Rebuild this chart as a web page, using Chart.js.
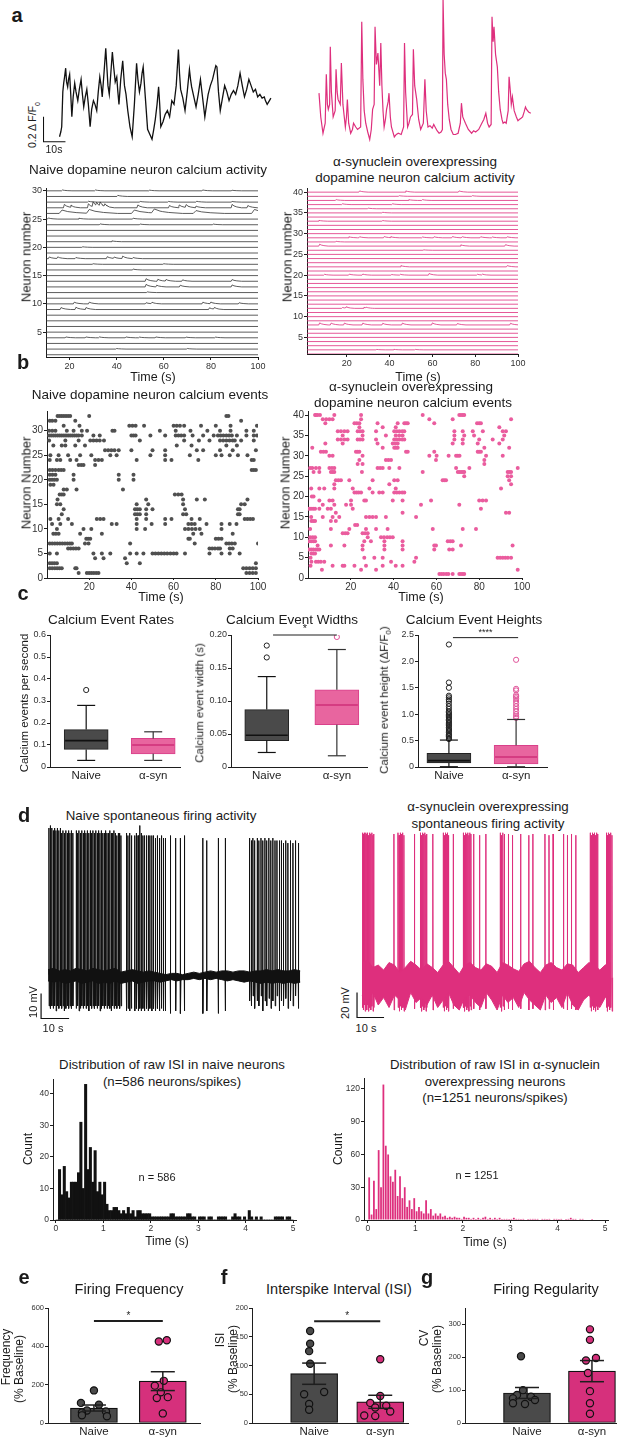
<!DOCTYPE html>
<html>
<head>
<meta charset="utf-8">
<script src="https://cdn.jsdelivr.net/npm/chart.js@4.4.1/dist/chart.umd.min.js"></script>
<style>
  body { margin: 0; background: #fff; }
  #fig { position: relative; width: 632px; height: 1439px; overflow: hidden; background: #fff;
         font-family: 'Liberation Sans', Arial, sans-serif; color: #1a1a1a; }
  .t { position: absolute; white-space: nowrap; transform: translate(-50%, -50%); line-height: 1; }
</style>
</head>
<body>
<div id="fig"></div>
<script>
// ---------- data ----------

// a: example traces (time s, dF/F)
const blackTraceT = [0,0.6,1,1.5,1.9,2.3,2.8,3.2,3.7,4.1,4.6,5.1,5.6,6.2,6.9,7.5,8.3,9,9.8,10.4,11,11.7,12.4,13.1,13.9,14.6,15.4,16.1,16.9,17.6,18.3,18.9,19.4,20.2,21,21.5,22,22.6,23.3,24,24.6,25.3,26,26.5,27,27.8,28.7,29.5,30.2,31,32,33,34,35,35.6,36.3,37,37.5,38,39,40,41,42,42.8,43.5,44.3,45,45.5,46,47,48,49,50,51,52,53,54,54.5,55,56,57,58,59,59.5,60,61,62,63,64,65,66,66.8,67.5,68.5,69.5,70.3,71,71.5,72.2,73,74,75,76,77,78,79,80,81,82,83,84,85,86,87,88,89,90,91,92,93,93.5,94.3,95,96];
const blackTraceV = [.04,.08,.12,.40,.47,.52,.59,.48,.44,.50,.54,.38,.20,.36,.47,.40,.33,.42,.50,.38,.28,.36,.42,.30,.12,.26,.33,.30,.25,.40,.52,.45,.36,.55,.75,.60,.45,.38,.55,.72,.60,.48,.52,.40,.30,.50,.65,.45,.38,.25,.12,.04,.30,.63,.50,.40,.47,.55,.60,.35,.10,.06,.02,.10,.18,.30,.44,.30,.12,.16,.22,.25,.20,.33,.30,.45,.74,.55,.42,.35,.25,.40,.58,.50,.44,.36,.28,.38,.50,.35,.20,.30,.38,.45,.50,.56,.61,.60,.40,.25,.35,.45,.40,.33,.38,.41,.38,.45,.55,.45,.36,.42,.50,.45,.40,.42,.36,.38,.35,.36,.33,.30,.32,.35];
const pinkTraceT = [0.4,1.2,2.2,3.2,3.7,4.2,4.6,5.2,5.5,6.0,6.8,7.7,8.1,8.6,9.0,10.0,10.5,11.2,12.3,12.8,13.2,13.8,14.7,15.5,16.0,17.0,17.8,19.2,19.7,20.2,20.8,21.5,22.4,23.3,24.0,24.6,25.3,25.7,26.3,27.0,27.8,28.3,28.8,29.3,29.8,30.4,30.9,31.6,32.0,32.6,33.1,34.4,35.3,36.2,37.5,38.6,39.0,39.5,40.4,41.0,41.7,42.6,43.0,43.6,44.5,45.4,46.3,47.5,48.2,48.8,49.6,50.5,51.5,52.2,52.8,53.7,54.6,55.5,56.1,56.4,56.9,57.4,57.9,58.5,59.2,60.0,61.0,62.0,63.2,64.2,64.7,65.3,66.5,67.8,69.3,70.2,71.1,72.5,73.9,74.8,75.7,76.5,77.2,78.1,78.5,79.0,79.4,80.1,80.9,81.5,82.2,83.0,83.5,84.3,84.9,85.8,86.2,86.8,87.2,87.7,88.5,89.5,90.2,90.8,91.6,92.3,93.0,93.6,94.1,95.0,96.0];
const pinkTraceV = [.39,.20,.07,.15,.54,.30,.26,.30,.76,.40,.20,.25,.58,.40,.34,.30,.63,.30,.12,.20,.34,.15,.07,.10,.15,.12,.10,.12,.96,.50,.25,.15,.08,.02,.10,.26,.30,.92,.62,.71,.45,.79,.45,.25,.12,.18,.26,.32,.39,.20,.12,.04,.06,.07,.06,.12,.79,.40,.12,.15,.20,.22,.74,.45,.34,.18,.10,.15,.50,.25,.12,.13,.11,.14,.12,.09,.07,.08,.10,1.14,.70,.55,.50,.30,.18,.10,.06,.06,.07,.15,.31,.20,.15,.10,.07,.09,.08,.10,.15,.18,.23,.15,.12,.14,1.0,.80,.92,.70,.60,.40,.26,.18,.15,.16,.15,.25,.52,.40,.30,.36,.25,.20,.17,.18,.19,.20,.24,.28,.26,.24,.23];

// a: calcium activity per neuron, events [time, amplitude, decay factor]
const naiveActivity = {
  30: [[17,.15],[31,.15],[54,.12],[76.6,.15],[89,.1]],
  29: [[40.5,.2]],
  28: [[28,.15],[50,.12],[62,.12],[74,.15],[89,.12]],
  27: [[17.8,.6],[20.6,.4],[28,.7],[30,.9],[31.5,.6],[33,.7],[35,.5],[49,.5],[62.4,.4],[66.6,.5],[69.5,.5],[73.7,.3],[89,.6],[95.7,.4]],
  26: [[16.8,.6,3],[28.4,.7,3],[47.5,.6,3],[56,.7,3],[73.7,.5,3],[98.5,.7,3]],
  25: [[11,.2],[24,.15],[47,.15]],
  24: [[33,.15],[50,.12],[81,.12]],
  21: [[38,.15]],
  20: [[25.6,.1]],
  18: [[11.4,.3],[15,.3],[22.7,.2],[36,.35],[39,.25],[42.6,.45],[47,.2]],
  17: [[30,.1],[60,.1]],
  16: [[47,.15]],
  14: [[52.5,.45],[57.5,.35],[61,.3],[68,.25],[89,.3]],
  13: [[52.5,.45],[57,.3],[67,.3],[89,.35]],
  12: [[53,.12]],
  10: [[22,.3],[28.4,.3],[52.5,.2],[55,.25],[76.6,.3],[80,.3],[92,.2]],
  9: [[16.4,.35],[22.7,.4],[27,.35],[79.4,.3],[81.5,.3]],
  4: [[18.5,.15],[27,.15],[32.7,.15],[44,.15],[49.7,.12],[56.7,.15],[69.5,.12],[82,.12]],
  2: [[40,.1],[70,.1]]
};
const asynActivity = {
  40: [[26,.3],[47.6,.3],[72.5,.3]],
  39: [[44.5,.15],[78.7,.15]],
  38: [[15,.2],[49,.2],[55.4,.2]],
  37: [[18,.2],[41.4,.2]],
  36: [[30,.15]],
  35: [[36.8,.15]],
  33: [[7,.2],[36.8,.15]],
  29: [[21,.25],[26,.25],[37.5,.3],[40.6,.25],[55.4,.2],[60.8,.25],[69.4,.3],[74,.25],[82.6,.25],[88,.2],[95,.25]],
  28: [[15,.15]],
  27: [[7.3,.45],[73.3,.3],[94.2,.35]],
  26: [[56,.1]],
  22: [[45.3,.3],[95,.3]],
  20: [[9.6,.2],[21.2,.25],[27.5,.25],[41,.15],[45,.2],[58.5,.4],[81,.2],[83.4,.2]],
  12: [[18,.2],[19.7,.3],[28,.25],[29,.15]],
  8: [[7.3,.5],[12.7,.45],[18.9,.45],[27.5,.45],[36.8,.4],[46,.45],[60,.5],[71.7,.35],[96.5,.4]],
  2: [[34,.1],[42,.12],[52,.1]]
};

// b: calcium event raster, neuron -> event times (s)
const naiveEvents = {
  33: [5,6,7,8,9,10,11,20,85,86],
  32: [1.3,2.5,4,13.4,92],
  31: [7.9,15.4,39,40.5,42,46,60,61.5,63,65,73,80,87,99.5],
  30: [1,2.5,4,9.4,12.6,16.5,19,31,32,53.5,61,68,76,82,87,94.5,98],
  29: [1,2,3,4,5,6,7,8,9,10,11,12,13,14,15,16.5,22,25,40,41,42,49,56,61,62.3,63.6,65,69,74,79,81,82.3,83.6,85,86.3,87.6,90,94.5,98,99.5],
  28: [1,8.7,15,20.5,22,23.5,25,27,44,65,72,77,82,83.5,85,86.5,88,89,92,98],
  27: [3,7,8.7,13.4,18,61.5,68.5,85,90],
  26: [27.5,29,30.5,32,34,40,50,56,71,74,82,88,99],
  25: [1.6,5.5,10,15.7,21,30,33,49,56,67.7,80,82.7,86.6,90.5,95],
  24: [1.3,4.7,6.3,11,14,22.8,24.4,26,42.5,56,59,71.7,97,98],
  23: [15,16.2,17.3,22.8],
  22: [1.3,2.6,4,5.5,6.7,7.9,97,98,99],
  21: [1.3,2.6,4,12.6,34,41],
  20: [1.3,2.4,3.5,4.7,12.6,34,41],
  19: [1.6,3.1],
  18: [7.9,9.4,14,36],
  17: [6,7,7.9,60.6,62.2,63.8],
  16: [5,47,64.5,71,74.8,95],
  15: [4.7,6.3,42.5,48,64.5,92,93.7],
  14: [7.9,41.7,42.8,44,47,50,65.4,90.5,91.3],
  13: [7,41.7,42.8,44,47,64.5,66,90.5,91.3],
  12: [1.6,5.5,10,23.6,25.2,26.8,42.5,47,56,59,68.5,72.4,93.7,95,96.3,97.6],
  11: [2.4,6.3,11.8,30.7,33,42.5,49.6,56,67,68.5,70,75.6,82.7,86.6,89.8],
  10: [4.7,17.3,21,42.5,46.5,65.4,67,68.7,70.4,72.4,82.7],
  9: [3,4.2,5.5,15.7,26,69.3,73.2,88],
  8: [18.6,19.5,20.5,67,67.7,80,81.3,82.7],
  7: [1.3,2.5,3.7,4.9,6.1,7.3,8.5,9.7,10.8,11.8,18,19.7,39.4,70,85,86.3,87.6,89,100],
  6: [10,11.2,12.5,13.7,15,77,78.3,79.6,81,82,86.6,88],
  5: [1.3,4.7,22,26,30,39.4,42.5,45.7,50,51.4,52.8,54.2,55.6,57,58.5,60,61.4,65.4,77,82.7,86.6,91.3],
  4: [22.8,26.8,37],
  3: [1.3,2.4,3.5,4.7,37.8,44,99],
  2: [1.3,2.5,3.7,4.8,5.9,7,13.4,14,93,94.5,96,97.5,99],
  1: [15,18.9,20,21.1,22.2,23.3,24.4,94.5,96,97.5,99]
};
const asynEvents = {
  40: [3.3,3.7,4.5,5.6,12.3,24.8,53.6,70.7,71.5,72.3,73],
  39: [6.9,8.5,10,11.5,24.8,56.7,67.6,94.9],
  38: [8.1,21.7,22.8,24,32.5,41.9,45,45.8,46.6,59,79,80,80.8],
  37: [24,34.9,41,89.4],
  36: [13.9,15.4,17,18.5,23.2,24.3,25.5,31.8,40.3,41.5,42.7,44,45,68.4,72.3,77,81.7,91,92.5],
  35: [16.2,25.5,36.4,41,42.6,44.2,68.4,73,77.6,91.7],
  34: [13.9,15.4,17,18.5,23.2,24.3,25.5,31.8,40.3,41.5,42.7,44,45,68.4,72.3,80,86.3,91],
  33: [8.1,16.2,32.5,39.6,40.8,41.9,67.6,72.3,79.3,89.4],
  32: [2,34.9,40.3,41.1,41.9,82.4,94],
  31: [6,7.2,8.4,22.4,23.2,24,45.8,46.6,59,79.3,80,80.8],
  30: [10,11.5,25.5,56.7,60.1,65.7,69.2,70,70.8,83.2,91],
  29: [24,36.4,37.6,38.8,59.8,82.4],
  28: [23.2,25.5,82.4],
  27: [1,2,3.7,5.3,10,11.2,12.3,32.5,33.7,34.9,38,42.7,69.2,75.4,98],
  26: [2.6,5.3,10.7,11.5,12.3,25.2,53.6,70,70.8,71.6,72.4,73,93.3,94.1,94.9],
  25: [73,93.3,94.9],
  24: [13,14.2,15.4,19.3,30.2,40.3,41.9,62.9,63.7,64.5,94],
  23: [12.3,38,94.9],
  22: [1.5,5.3,7.6,12.3,20.9,28.7,41,90.2],
  21: [21.7,22.7,23.7,24.8,30.2,33.3,34.9,40.3,41.5,42.7,44,45],
  20: [1.8,2.6],
  19: [5.3,10,11.5,20.1,26.3,27.1,39.6,44.2,57.5,80,81.6,83.2],
  18: [6.9,12.3,17.8,20.1,52.8,70.7],
  17: [0.5,1.4,2.4,3.3,5.3,9.2,10.7,20.9,80.8],
  16: [13,44.2,92.5,94],
  15: [1.5,6.9,11.5,14.6,27.1,28.7,30.2,31.8,36.4,50.5],
  14: [1.6,2.5,3.3,10.7,13],
  13: [22,23],
  12: [1,10.7,19.3,27.1,31.8,37.2,58.3,72.3,78.5],
  11: [16.2,17.4,18.5,25.5,26.7,27.9],
  10: [1,2.2,3.3,27.9,34.1,35.5,37,38.3,39.6],
  9: [0.5,1.5,2.5,3.3,26.3,29.4,35.7,44.2,65.3,66.5,67.6],
  8: [4.5,10.7,17,25.5,35.7,44.2,59,59.8,71.5,95.6],
  7: [0.5,1.5,2.5,3.7,4.5,5.3,25.5,35.7,44.2,59,66,67.6],
  6: [1.6,2.5,3.3],
  5: [1.2,26.3,31,34.9,50.5,88.6,89.8,91,92.2,93.4,94.9],
  4: [1.6,3.7,4.8,6,7.6,38.8,49.7],
  3: [1.2,11.5,16.2,17,21.7,27.1,34.9,41,44.2],
  2: [6.5,24.8,31.8,98],
  1: [61.4,62.4,63.4,64.6,65.6,67.6,70.7,71.5,72.3,73]
};

// c: box plots, [low whisker, Q1, median, Q3, high whisker] for Naive, α-syn
const groups = ['Naive', 'α-syn'];
const rateStats = [[0.03,0.08,0.12,0.17,0.28],[0.03,0.06,0.10,0.13,0.16]];
const rateOutliers = [[0.35],[]];
const widthStats = [[0.022,0.04,0.048,0.087,0.137],[0.017,0.064,0.094,0.117,0.178]];
const widthOutliers = [[0.166,0.184],[0.197]];
const heightStats = [[0.005,0.075,0.12,0.26,0.51],[0.005,0.06,0.19,0.41,0.90]];
const heightOutliers = [
  [0.53,0.55,0.58,0.6,0.62,0.65,0.68,0.7,0.72,0.75,0.78,0.8,0.83,0.85,0.88,0.9,0.93,0.95,0.98,1.0,1.03,1.05,1.1,1.15,1.2,1.25,1.28,1.32,1.35,1.5,1.6,2.32],
  [0.93,0.96,1.0,1.05,1.1,1.15,1.2,1.25,1.3,1.33,1.36,1.45,1.48,2.03]
];

// d: spontaneous firing, spikes [time s, peak mV, trough mV]; baseline envelope every 2 s
const blackRest = -57.5, pinkRest = -48;
const blackSpikes = [
  [0.3,1,-70],[0.8,2,-71],[1.3,1,-70],[1.8,0,-71],[2.3,1,-70],[2.8,0,-72],[3.3,1,-70],[3.8,0,-71],[4.3,1,-70],[4.8,-1,-71],[5.3,0,-70],[5.8,-1,-72],[6.3,0,-71],[6.8,-1,-70],[7.3,0,-71],[7.8,-1,-70],[8.3,0,-71],[8.8,-1,-70],
  [10.0,0,-71],[10.5,-1,-70],[11.0,0,-72],[11.5,-1,-71],[12.0,0,-70],[12.5,-1,-71],[13.0,0,-70],[13.5,-1,-71],[14.0,0,-70],[14.5,-1,-72],[15.0,0,-70],[15.5,-1,-71],[16.0,0,-70],[16.5,-1,-71],[17.0,0,-70],[17.5,-1,-71],[18.0,0,-70],[18.5,-1,-72],[19.0,0,-71],[19.5,-1,-70],[20.0,-1,-71],[20.5,0,-70],[21.0,-1,-71],[21.5,-1,-70],[22.0,0,-71],[22.5,-1,-72],[23.0,-1,-70],[23.5,0,-71],[24.0,-1,-70],[24.5,-2,-71],[25.0,-1,-70],[25.5,-1,-71],[26.0,-2,-70],
  [27.9,-1,-72],[28.5,-2,-71],[29.1,-1,-72],[29.7,-2,-71],[30.9,-2,-72],[31.5,-1,-71],[32.1,-2,-72],[32.7,2,-71],[33.2,-1,-72],[33.8,-2,-71],[34.4,-2,-72],[35.1,-2,-71],[35.7,-2,-72],[36.3,-2,-71],[37.0,-2,-72],[37.6,-2,-71],[38.3,-3,-72],[39.0,-2,-71],[39.7,-3,-72],[40.4,-2,-71],[41.1,-3,-72],[41.8,-3,-72],
  [43.6,-2,-73],[45.5,-3,-72],[47.2,-3,-73],[48.6,-2,-72],[55.2,-3,-73],[56.6,-4,-72],[60.7,-3,-73],[63.2,-3,-72],
  [71.9,-3,-68],[72.5,-4,-70],[73.1,-3,-66],[73.7,-4,-71],[74.6,-3,-68],[75.2,-4,-70],[76.0,-3,-66],[76.6,-4,-72],[77.4,-3,-68],[78.0,-4,-70],[78.8,-3,-67],[79.5,-4,-71],[80.2,-3,-68],[81.0,-4,-70],[81.7,-4,-66],[82.5,-4,-72],[83.2,-4,-68],[84.0,-5,-70],[84.8,-4,-67],[85.6,-5,-71],[86.5,-4,-68],[87.4,-5,-70],[88.3,-4,-66],[89.3,-5,-71]
];
const blackUpper = [-55.5,-55,-56,-55.5,-56,-55,-55.5,-56,-55,-55.5,-56,-55.5,-55,-56.5,-56,-55.5,-56,-56.5,-56,-56.5,-57,-57.5,-57,-57,-57.5,-57,-56.5,-57,-56.5,-56,-56.5,-56,-56,-56.5,-56,-56,-56.5,-56,-56,-55.5,-56,-55.5,-56,-56,-55.5,-56];
const blackLower = [-60,-60.5,-60,-61,-60.5,-60,-61,-60.5,-60,-61,-60.5,-61,-60,-61,-60.5,-60,-61,-60.5,-60,-60,-60.5,-60,-59.5,-60,-59.5,-59.5,-59,-59.5,-59,-59.5,-59,-59.5,-60,-59.5,-60,-60.5,-60,-60.5,-61,-60.5,-61,-60.5,-61,-60.5,-61,-60.5];
const pinkSpikes = [
  [0.2,68,-72],[0.5,67,-74],[0.8,68,-70],[1.1,66,-75],[1.4,68,-72],[1.7,67,-74],[2.0,68,-70],[2.4,66,-75],[2.8,68,-72],[3.2,67,-74],[3.6,68,-71],[4.0,66,-75],[4.3,67,-72],
  [11.8,67,-74],[13.3,68,-72],[13.7,66,-75],[14.1,68,-71],[14.5,67,-74],[15.0,68,-72],[15.5,66,-75],[19.4,67,-73],
  [21.6,68,-72],[22.0,66,-75],[22.4,68,-71],[22.8,67,-74],[23.2,68,-72],[23.6,66,-75],[23.9,67,-72],[26.2,67,-74],
  [30.0,68,-72],[30.4,66,-75],[30.8,68,-71],[31.2,67,-74],[31.6,68,-72],[32.0,66,-75],[33.7,67,-73],
  [37.5,68,-72],[37.9,66,-75],[38.3,68,-71],[38.7,67,-74],[39.1,68,-72],[39.5,66,-75],[39.9,68,-71],[40.3,67,-74],[41.3,67,-73],[43.5,66,-74],[45.8,67,-73],
  [51.1,68,-72],[51.6,66,-75],[52.1,68,-71],[52.6,67,-74],[54.1,67,-73],[55.6,66,-74],[58.7,67,-73],[61.7,66,-74],[63.2,67,-73],
  [67.7,67,-74],[69.2,66,-73],[70.7,67,-74],[74.5,67,-73],[76.0,66,-74],[77.5,67,-73],[79.1,66,-74],
  [84.4,68,-72],[84.8,66,-75],[85.2,68,-71],[85.6,67,-74],[86.0,68,-72],[86.4,66,-75],[86.8,68,-71],[87.2,67,-74],
  [90.4,68,-72],[90.8,66,-75],[91.2,68,-71],[91.6,67,-74],[92.0,68,-72],[92.5,66,-75]
];
const pinkUpper = [-36,-34,-40,-38,-42,-36,-38,-44,-40,-35,-38,-42,-37,-40,-44,-38,-35,-40,-45,-38,-36,-40,-42,-37,-39,-44,-36,-38,-41,-43,-37,-35,-40,-44,-38,-36,-40,-42,-37,-38,-44,-40,-36,-38,-42,-38,-36];
const pinkLower = [-62,-68,-60,-70,-64,-72,-62,-66,-74,-60,-68,-64,-70,-62,-72,-66,-60,-70,-74,-64,-62,-68,-72,-60,-66,-74,-62,-68,-64,-72,-60,-66,-70,-74,-62,-68,-64,-72,-60,-70,-74,-66,-62,-68,-72,-64,-62];

// d: ISI histograms, counts per 0.05 s bin from 0 to 5 s
const isiNaive = [0,16,8,17,9,7,12,12,12,15, 31,10,43,16,23,12,22,9,12,8, 12,5,3,3,4,4,3,2,3,2, 4,2,3,1,3,3,2,2,2,2, 1,1,1,1,1,1,1,1,2,2, 1,1,1,1,1,2,2,1,1,0, 1,1,1,0,1,1,0,0,1,1, 1,1,0,0,1,2,1,1,0,1, 0,3,1,0,1,0,1,0,0,0, 0,0,1,1,1,1,0,1,1,0];
const isiAsyn = [39,5,36,10,64,30,124,68,60,40, 35,46,22,40,20,30,12,18,10,20, 8,12,8,6,18,6,10,4,6,4, 6,3,4,2,3,2,3,2,2,1, 3,2,2,1,2,1,2,1,2,3, 1,2,1,2,1,2,1,1,1,1, 1,2,1,1,1,1,0,1,1,1, 1,1,0,1,1,1,1,0,1,1, 1,1,0,1,1,2,1,1,0,1, 1,0,0,0,1,0,0,0,0,0];

// e-g: per-cell values (% baseline)
const freqNaive = [170,105,95,65,55,60,40,35];
const freqAsyn = [432,425,220,195,160,135,130,50];
const isiPctNaive = [160,138,125,103,54,50,33,23];
const isiPctAsyn = [111,47,35,30,27,20,13,12];
const cvNaive = [203,100,85,80,75,70,60,58];
const cvAsyn = [285,253,198,190,152,97,60,28];

// ---------- drawing ----------
const FONT = "'Liberation Sans', Arial, sans-serif";
const PINK = '#de2f7d', DARK = '#4a4a4a', INK = '#1e1e1e';
const fig = document.getElementById('fig');

const seg = (ctx, x1, y1, x2, y2) => { ctx.beginPath(); ctx.moveTo(x1, y1); ctx.lineTo(x2, y2); ctx.stroke(); };

// whiskers, medians, error bars and significance bars, placed through the chart scales
const extras = {
  id: 'extras',
  defaults: {},
  afterDatasetsDraw(chart, args, o) {
    const { ctx } = chart, x = chart.scales.x, y = chart.scales.y;
    const P = v => y.getPixelForValue(v);
    ctx.save();
    (o.boxes || []).forEach(b => {
      const cx = x.getPixelForValue(b.x), s = b.s;
      ctx.strokeStyle = b.wc; ctx.lineWidth = 1.2;
      seg(ctx, cx, P(s[0]), cx, P(s[1])); seg(ctx, cx, P(s[3]), cx, P(s[4]));
      seg(ctx, cx - 9, P(s[0]), cx + 9, P(s[0])); seg(ctx, cx - 9, P(s[4]), cx + 9, P(s[4]));
      ctx.strokeStyle = b.mc; ctx.lineWidth = 1.6;
      seg(ctx, cx - 21, P(s[2]), cx + 21, P(s[2]));
    });
    (o.errs || []).forEach(e => {
      const cx = x.getPixelForValue(e.x), a = P(e.m - e.s), b = P(e.m + e.s);
      ctx.strokeStyle = INK; ctx.lineWidth = 1.5;
      seg(ctx, cx, a, cx, b); seg(ctx, cx - 12, a, cx + 12, a); seg(ctx, cx - 12, b, cx + 12, b);
    });
    if (o.sig) {
      const s = o.sig, x1 = x.getPixelForValue(s.x1), x2 = x.getPixelForValue(s.x2), y0 = P(s.y);
      ctx.strokeStyle = INK; ctx.fillStyle = INK; ctx.lineWidth = s.lw;
      seg(ctx, x1, y0, x2, y0);
      ctx.font = `${s.size}px ${FONT}`; ctx.textAlign = 'center'; ctx.textBaseline = 'bottom';
      ctx.fillText(s.text, (x1 + x2) / 2, y0 - s.gap);
    }
    ctx.restore();
  }
};
Chart.register(extras);
Chart.defaults.font.family = FONT;
Chart.defaults.color = INK;
Chart.defaults.events = [];
Chart.defaults.plugins.legend.display = false;
Chart.defaults.plugins.tooltip.enabled = false;

function txt(s, x, y, size, o = {}) {
  const d = document.createElement('div');
  d.className = 't';
  d.innerHTML = s;
  d.style.left = x + 'px'; d.style.top = y + 'px'; d.style.fontSize = size + 'px';
  if (o.bold) d.style.fontWeight = 'bold';
  if (o.rot) d.style.transform = 'translate(-50%,-50%) rotate(-90deg)';
  fig.appendChild(d);
}

// place a chart so that its plot area covers rect
function plot(rect, L, B, config, T = 10, R = 14) {
  const w = Math.round(rect.w + L + R), h = Math.round(rect.h + T + B);
  const c = document.createElement('canvas');
  c.width = w; c.height = h;
  c.style.cssText = `position:absolute;left:${rect.x - L}px;top:${rect.y - T}px;width:${w}px;height:${h}px`;
  fig.appendChild(c);
  Object.assign(config.options, { responsive: false, animation: false,
    layout: { padding: { top: T, right: R, left: 0, bottom: 0 } } });
  const sc = config.options.scales;
  if (sc.x.display !== false) sc.x.afterFit = s => { s.height = B; };
  if (sc.y.display !== false) sc.y.afterFit = s => { s.width = L; };
  return new Chart(c, config);
}

function axis(min, max, ticks, size = 9, o = {}) {
  return Object.assign({
    type: 'linear', min, max, offset: false,
    afterBuildTicks: s => { s.ticks = ticks.map(v => ({ value: v })); },
    grid: { drawOnChartArea: false, drawTicks: true, tickLength: 3, color: INK, offset: false },
    border: { display: true, color: INK, width: 1 },
    ticks: { font: { size }, color: '#333', padding: 1, maxRotation: 0, autoSkip: false }
  }, o);
}
const hidden = (min, max) => ({ type: 'linear', min, max, display: false, offset: false });
const groupTicks = (size) => ({ font: { size }, color: INK, padding: 2, maxRotation: 0, autoSkip: false,
  callback: v => groups[v - 1] });

// --- panel a: example traces ---
txt('a', 17, 15, 20, { bold: true });
plot({ x: 42.5, y: 42, w: 228.8, h: 101.25 }, 0, 0, {
  type: 'line',
  data: { datasets: [
    { data: blackTraceT.map((t, i) => ({ x: t, y: blackTraceV[i] })), borderColor: '#111', borderWidth: 1.3, pointRadius: 0 },
    { data: [{ x: -7.3, y: 0.2 }, { x: -7.3, y: 0 }, { x: 2.7, y: 0 }], borderColor: '#111', borderWidth: 1.2, pointRadius: 0 }
  ] },
  options: { scales: { x: hidden(-7.5, 96.5), y: hidden(-0.01, 0.8) } }
}, 2, 2);
plot({ x: 317, y: -1.75, w: 216, h: 143.75 }, 0, 0, {
  type: 'line',
  data: { datasets: [
    { data: pinkTraceT.map((t, i) => ({ x: t, y: pinkTraceV[i] })), borderColor: PINK, borderWidth: 1.2, pointRadius: 0 }
  ] },
  options: { scales: { x: hidden(-0.5, 97), y: hidden(0, 1.15) } }
}, 2, 2);
txt('0.2 Δ F/F<sub style="font-size:7px">0</sub>', 34, 125, 10.5, { rot: true });
txt('10s', 54, 149, 10.5);

// calcium activity stacks
const KT = [-0.4, 0, 0.8, 2, 4], KV = [0, 1, 0.55, 0.25, 0];
function kern(dt, d) {
  const s = dt / d;
  if (s <= KT[0] || s >= KT[4]) return 0;
  for (let i = 1; i < KT.length; i++) if (s <= KT[i]) {
    const f = (s - KT[i - 1]) / (KT[i] - KT[i - 1]);
    return KV[i - 1] + f * (KV[i] - KV[i - 1]);
  }
  return 0;
}
function tracePoints(n, events, t0, t1) {
  const ts = [t0, t1];
  events.forEach(([t, a, d = 1]) => KT.forEach(k => ts.push(t + k * d)));
  return ts.filter(t => t >= t0 && t <= t1).sort((a, b) => a - b)
    .map(t => ({ x: t, y: n + events.reduce((s, [te, a, d = 1]) => s + a * kern(t - te, d), 0) }));
}
function activityDatasets(store, count, t0, t1, color) {
  const out = [];
  for (let n = 1; n <= count; n++)
    out.push({ data: tracePoints(n, store[n] || [], t0, t1), borderColor: color, borderWidth: 0.8, pointRadius: 0 });
  return out;
}
txt('Naive dopamine neuron calcium activity', 148, 170, 13.5);
plot({ x: 46, y: 188, w: 212, h: 169 }, 26, 20, {
  type: 'line',
  data: { datasets: activityDatasets(naiveActivity, 30, 10, 100, '#333') },
  options: { scales: { x: axis(10, 100, [20, 40, 60, 80, 100]), y: axis(0.6, 30.5, [5, 10, 15, 20, 25, 30]) } }
});
txt('Neuron number', 26, 257, 13, { rot: true });
txt('Time (s)', 153, 377, 12.5);

txt('α-synuclein overexpressing', 415, 162, 13.5);
txt('dopamine neuron calcium activity', 415, 178, 13.5);
plot({ x: 307, y: 188, w: 211, h: 166 }, 22, 20, {
  type: 'line',
  data: { datasets: activityDatasets(asynActivity, 40, 1.4, 100, PINK) },
  options: { scales: { x: axis(1.4, 100, [20, 40, 60, 80, 100]), y: axis(1, 41, [5, 10, 15, 20, 25, 30, 35, 40]) } }
});
txt('Neuron number', 287, 257, 13, { rot: true });
txt('Time (s)', 418, 377, 12.5);

// --- panel b: raster ---
txt('b', 23, 362, 20, { bold: true });
function raster(store, color) {
  const pts = [];
  Object.keys(store).forEach(n => store[n].forEach(t => pts.push({ x: t, y: +n })));
  return [{ type: 'scatter', data: pts, pointRadius: 2, backgroundColor: color, borderColor: color, borderWidth: 0 }];
}
txt('Naive dopamine neuron calcium events', 150, 395, 13.5);
plot({ x: 47, y: 411, w: 211, h: 167 }, 26, 20, {
  type: 'scatter',
  data: { datasets: raster(naiveEvents, '#505050') },
  options: { scales: { x: axis(0, 100, [20, 40, 60, 80, 100], 10, { grid: { drawOnChartArea: false, tickLength: 2, color: INK } }),
                       y: axis(0, 34, [0, 5, 10, 15, 20, 25, 30], 10) } }
});
txt('Neuron Number', 26, 483, 13, { rot: true });
txt('Time (s)', 161, 597, 12.5);

txt('α-synuclein overexpressing', 411, 387, 13.5);
txt('dopamine neuron calcium events', 413, 403, 13.5);
plot({ x: 308, y: 411, w: 214, h: 167 }, 22, 20, {
  type: 'scatter',
  data: { datasets: raster(asynEvents, '#ea5c9e') },
  options: { scales: { x: axis(0, 100, [20, 40, 60, 80, 100], 10, { grid: { drawOnChartArea: false, tickLength: 2, color: INK } }),
                       y: axis(0, 41, [0, 5, 10, 15, 20, 25, 30, 35, 40], 10) } }
});
txt('Neuron Number', 285, 483, 13, { rot: true });
txt('Time (s)', 421, 597, 12.5);

// --- panel c: box plots ---
txt('c', 23, 593, 20, { bold: true });
function boxChart(rect, xmin, xmax, ymax, yticks, stats, outliers, sig) {
  return plot(rect, 32, 16, {
    type: 'bar',
    data: { datasets: [
      { type: 'bar', order: 1, data: stats.map((s, i) => ({ x: i + 1, y: [s[1], s[3]] })), barThickness: 44,
        backgroundColor: [DARK, '#e8659f'], borderColor: ['#222', '#d9408a'], borderWidth: 1, borderSkipped: false },
      { type: 'scatter', order: 0, data: outliers[0].map(v => ({ x: 1, y: v })), pointRadius: 2.6, borderWidth: 1,
        borderColor: '#222', backgroundColor: 'rgba(255,255,255,0)' },
      { type: 'scatter', order: 0, data: outliers[1].map(v => ({ x: 2, y: v })), pointRadius: 2.6, borderWidth: 1,
        borderColor: '#e0559a', backgroundColor: 'rgba(255,255,255,0)' }
    ] },
    options: {
      scales: {
        x: axis(xmin, xmax, [1, 2], 10, { ticks: groupTicks(11.5), grid: { drawOnChartArea: false, drawTicks: false, offset: false } }),
        y: axis(0, ymax, yticks, 9)
      },
      plugins: { extras: {
        boxes: [{ x: 1, s: stats[0], wc: '#111', mc: '#111' }, { x: 2, s: stats[1], wc: '#333', mc: '#cf2f79' }],
        sig
      } }
    }
  }, 14, 14);
}
txt('Calcium Event Rates', 111, 620, 13.5);
boxChart({ x: 50, y: 635, w: 130, h: 132 }, 0.46, 2.4, 0.6, [0, 0.1, 0.2, 0.3, 0.4, 0.5, 0.6], rateStats, rateOutliers, null);
txt('Calcium events per second', 25, 703, 11.5, { rot: true });

txt('Calcium Event Widths', 292, 620, 13.5);
boxChart({ x: 231, y: 635, w: 136, h: 132 }, 0.49, 2.43, 0.2, [0, 0.05, 0.1, 0.15, 0.2], widthStats, widthOutliers,
  { x1: 1.09, x2: 2.0, y: 0.2, text: '*', lw: 1, size: 11, gap: 1 });
txt('Calcium event width (s)', 200, 703, 11.5, { rot: true });

txt('Calcium Event Heights', 474, 620, 13.5);
boxChart({ x: 418, y: 635, w: 129, h: 132 }, 0.54, 2.46, 2.5, [0, 0.5, 1, 1.5, 2, 2.5], heightStats, heightOutliers,
  { x1: 1.06, x2: 2.03, y: 2.45, text: '****', lw: 1, size: 9, gap: 1 });
txt('Calcium event height (ΔF/F<sub style="font-size:8px">0</sub>)', 386, 700, 11.5, { rot: true });

// --- panel d: spontaneous firing ---
txt('d', 24, 815, 20, { bold: true });
function firingDatasets(spikes, rest, upper, lower, color, bar) {
  const spk = [];
  spikes.forEach(([t, pk, lo]) => {
    spk.push({ x: t - 0.02, y: rest }, { x: t, y: pk }, { x: t + 0.08, y: lo }, { x: t + 0.25, y: rest }, { x: t + 0.26, y: null });
  });
  return [
    { data: lower.map((v, i) => ({ x: i * 2, y: v })), borderColor: color, borderWidth: 1, pointRadius: 0 },
    { data: upper.map((v, i) => ({ x: i * 2, y: v })), borderColor: color, borderWidth: 1, pointRadius: 0,
      fill: '-1', backgroundColor: color },
    { data: spk, borderColor: color, borderWidth: 1, pointRadius: 0, spanGaps: false },
    { data: bar, borderColor: '#111', borderWidth: 1.2, pointRadius: 0 }
  ];
}
txt('Naive spontaneous firing activity', 161, 816, 13.3);
plot({ x: 38, y: 818, w: 264.8, h: 202.5 }, 0, 0, {
  type: 'line',
  data: { datasets: firingDatasets(blackSpikes, blackRest, blackUpper, blackLower, '#111',
    [{ x: -2.5, y: -65 }, { x: -2.5, y: -75 }, { x: 7.5, y: -75 }]) },
  options: { scales: { x: hidden(-3.6, 91), y: hidden(-76, 5) } }
}, 2, 2);
txt('10 mV', 33, 1002, 11, { rot: true });
txt('10 s', 53, 1028, 11);

txt('α-synuclein overexpressing', 488, 807, 13.3);
txt('spontaneous firing activity', 488, 824, 13.3);
plot({ x: 355, y: 824.25, w: 260.8, h: 196.25 }, 0, 0, {
  type: 'line',
  data: { datasets: firingDatasets(pinkSpikes, pinkRest, pinkUpper, pinkLower, PINK,
    [{ x: -1.85, y: -60 }, { x: -1.85, y: -80 }, { x: 8.15, y: -80 }]) },
  options: { scales: { x: hidden(-2.6, 94), y: hidden(-82, 75) } }
}, 2, 2);
txt('20 mV', 345, 1003, 11, { rot: true });
txt('10 s', 366, 1028, 11);

// ISI histograms
function isiChart(rect, xmin, counts, ymax, yticks, color, pct) {
  return plot(rect, 22, 18, {
    type: 'bar',
    data: { datasets: [{ data: counts.map((c, i) => ({ x: i * 0.05 + 0.025, y: c })), backgroundColor: color,
      borderWidth: 0, barPercentage: pct, categoryPercentage: 1 }] },
    options: { scales: {
      x: axis(xmin, 5.06, [0, 1, 2, 3, 4, 5], 8.5),
      y: axis(0, ymax, yticks, 8.5)
    } }
  });
}
txt('Distribution of raw ISI in naive neurons', 172, 1065, 13.2);
txt('(n=586 neurons/spikes)', 172, 1082, 13.2);
isiChart({ x: 53, y: 1079, w: 243, h: 141 }, -0.063, isiNaive, 44.7, [0, 10, 20, 30, 40], '#111', 1);
txt('Count', 28, 1149, 12, { rot: true });
txt('n = 586', 157, 1177, 11);
txt('Time (s)', 167, 1241, 12);

txt('Distribution of raw ISI in α-synuclein', 495, 1065, 13.2);
txt('overexpressing neurons', 495, 1082, 13.2);
txt('(n=1251 neurons/spikes)', 495, 1098, 13.2);
isiChart({ x: 364, y: 1078, w: 244, h: 142 }, -0.084, isiAsyn, 130, [0, 30, 60, 90, 120], PINK, 0.75);
txt('Count', 338, 1149, 12, { rot: true });
txt('n = 1251', 477, 1175, 11);
txt('Time (s)', 485, 1242, 12);

// --- panels e-g: bar + dots ---
const mean = a => a.reduce((s, v) => s + v, 0) / a.length;
const sem = a => { const m = mean(a); return Math.sqrt(a.reduce((s, v) => s + (v - m) ** 2, 0) / (a.length - 1) / a.length); };
const freqJit = [[0, -13, 5, -7, -12, 12, -12, 13], [4, -4, 1, -8, -2, 5, -6, 0]];
const isiJit = [[-4, -4, -5, -4, 10, -10, -5, -5], [0, 0, -10, 6, -5, 10, -16, -5]];
const cvJit = [[-6, -4, -10, 4, -14, 8, -14, -2], [-2, -2, 4, -6, -4, -2, -2, -2]];
function barChart(rect, xmin, xmax, ymax, yticks, naive, asyn, jit, sig) {
  const unit = rect.w / (xmax - xmin);
  const dots = (vals, i, color) => ({ type: 'scatter', order: 0, data: vals.map((v, k) => ({ x: i + jit[i - 1][k] / unit, y: v })),
    pointRadius: 3.6, borderWidth: 1.2, borderColor: '#111', backgroundColor: color });
  return plot(rect, 26, 18, {
    type: 'bar',
    data: { datasets: [
      { type: 'bar', order: 1, data: [{ x: 1, y: mean(naive) }, { x: 2, y: mean(asyn) }], barThickness: 47,
        backgroundColor: [DARK, '#d6307c'], borderColor: '#111', borderWidth: 1.2, borderSkipped: false },
      dots(naive, 1, DARK), dots(asyn, 2, '#d6307c')
    ] },
    options: {
      scales: {
        x: axis(xmin, xmax, [1, 2], 10, { ticks: groupTicks(11.5), grid: { drawOnChartArea: false, drawTicks: false, offset: false } }),
        y: axis(0, ymax, yticks, 7.5)
      },
      plugins: { extras: { errs: [{ x: 1, m: mean(naive), s: sem(naive) }, { x: 2, m: mean(asyn), s: sem(asyn) }], sig } }
    }
  }, 10, 10);
}
txt('e', 24, 1277, 20, { bold: true });
txt('Firing Frequency', 129, 1289, 14.5);
barChart({ x: 48, y: 1308, w: 152, h: 115 }, 0.333, 2.54, 600, [0, 200, 400, 600], freqNaive, freqAsyn, freqJit,
  { x1: 1, x2: 2, y: 532, text: '*', lw: 2, size: 10, gap: 0 });
txt('Frequency', 6, 1357, 12, { rot: true });
txt('(% Baseline)', 19, 1369, 12, { rot: true });

txt('f', 224, 1277, 20, { bold: true });
txt('Interspike Interval (ISI)', 339, 1289, 14.5);
barChart({ x: 252, y: 1308, w: 156, h: 115 }, 0.06, 2.42, 200, [0, 50, 100, 150, 200], isiPctNaive, isiPctAsyn, isiJit,
  { x1: 1, x2: 2, y: 177, text: '*', lw: 2, size: 10, gap: 0 });
txt('ISI', 220, 1340, 12, { rot: true });
txt('(% Baseline)', 233, 1359, 12, { rot: true });

txt('g', 427, 1277, 20, { bold: true });
txt('Firing Regularity', 546, 1289, 14.5);
barChart({ x: 465, y: 1308, w: 151, h: 115 }, 0.046, 2.37, 350, [0, 100, 200, 300], cvNaive, cvAsyn, cvJit, null);
txt('CV', 424, 1338, 12, { rot: true });
txt('(% Baseline)', 437, 1359, 12, { rot: true });
</script>
</body>
</html>
